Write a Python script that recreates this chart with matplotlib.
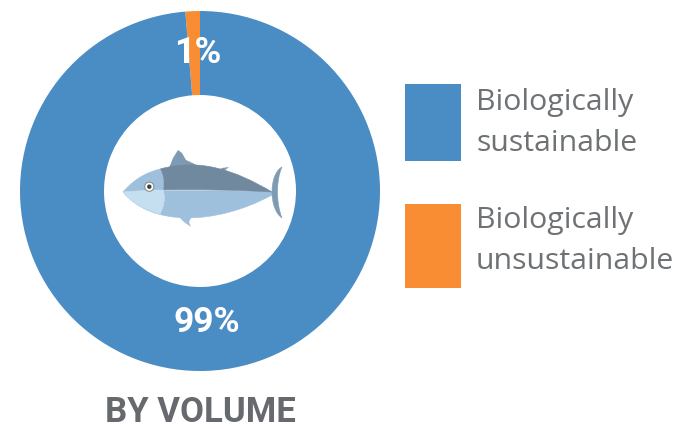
import matplotlib
matplotlib.use("Agg")
import matplotlib.pyplot as plt
from matplotlib.patches import Polygon, Rectangle, PathPatch, Circle
from matplotlib.path import Path

# values (the orange wedge is drawn a bit wider than its 1% label)
shares = [98.7, 1.3]
share_labels = ["99%", "1%"]
legend_labels = ["Biologically\nsustainable", "Biologically\nunsustainable"]
colors = ["#4a8cc4", "#f98d33"]
chart_title = "BY VOLUME"

W, H = 692, 429
fig = plt.figure(figsize=(W / 100, H / 100), dpi=100)

# donut
pie_ax = fig.add_axes([20 / W, 1 - 371 / H, 360 / W, 360 / H])
pie_ax.pie(shares[::-1], colors=colors[::-1], startangle=90, counterclock=True,
           radius=1.0, wedgeprops=dict(width=1 - 96 / 180, linewidth=0))
pie_ax.set_xlim(-1, 1)
pie_ax.set_ylim(-1, 1)

# everything else goes on a pixel axes on top
ax = fig.add_axes([0, 0, 1, 1], facecolor="none")
ax.set_xlim(0, W)
ax.set_ylim(H, 0)
ax.axis("off")


def curve(pts, fc):
    # first point then groups of 3 bezier points
    codes = [Path.MOVETO] + [Path.CURVE4] * (len(pts) - 1)
    ax.add_patch(PathPatch(Path(pts, codes), fc=fc, ec=fc, lw=0.4))


dark = "#71899f"
mid = "#9fc0dc"
pale = "#c5dff0"

# fins first, body over them
ax.add_patch(Polygon([(169, 168), (173, 158), (178, 150), (182, 153), (186, 160), (201, 167)], fc="#7f9ab3", lw=0))
ax.add_patch(Polygon([(216, 172), (222, 168), (229, 167), (224, 171), (222, 176)], fc="#7f9ab3", lw=0))
ax.add_patch(Polygon([(178, 216), (184, 222), (191, 227), (189, 222), (192, 216)], fc=mid, lw=0))
ax.add_patch(Polygon([(231, 204), (236, 207), (242, 208), (238, 206), (237, 202)], fc=mid, lw=0))

# lower body, upper body, head
curve([(123, 192), (150, 226), (215, 226), (272, 195), (272, 193), (272, 192), (272, 192),
       (220, 190), (170, 190), (123, 192)], mid)
curve([(160, 169), (200, 158), (235, 170), (272, 192), (235, 190), (195, 189), (160, 190), (160, 183), (160, 177), (160, 169)], dark)
curve([(123, 192), (135, 178), (148, 172), (160, 169), (164, 176), (164, 184), (163, 190),
       (150, 190), (135, 191), (123, 192)], mid)
curve([(123, 192), (135, 191), (150, 190), (163, 190), (166, 198), (164, 206), (160, 214),
       (145, 210), (132, 203), (123, 192)], pale)

# tail
curve([(272, 192), (272, 180), (276, 170), (282, 167), (276, 180), (276, 203), (282, 218),
       (276, 214), (272, 204), (272, 192)], "#7f9ab3")

# eye
ax.add_patch(Circle((149.3, 186.7), 4.6, fc="white", ec="#8a8f8f", lw=0.8))
ax.add_patch(Circle((149.3, 186.7), 2.2, fc="#3a4048", lw=0))

# percent labels and title
ax.text(198, 53, share_labels[1], fontsize=26, color="white", ha="center", va="center",
        weight="bold", family="Roboto")
ax.text(207, 323, share_labels[0], fontsize=25.5, color="white", ha="center", va="center",
        weight="bold", family="Roboto")
ax.text(200, 413, chart_title, fontsize=25, color="#666a6e", ha="center", va="center",
        weight="bold", family="Roboto")

# legend
ax.add_patch(Rectangle((405, 84), 56, 77, fc=colors[0], lw=0))
ax.add_patch(Rectangle((405, 204), 56, 84, fc=colors[1], lw=0))
ax.text(476, 123, legend_labels[0], fontsize=21.8, color="#6f7275", ha="left", va="center",
        family="Open Sans", linespacing=1.55)
ax.text(476, 241, legend_labels[1], fontsize=21.8, color="#6f7275", ha="left", va="center",
        family="Open Sans", linespacing=1.55)

fig.savefig("out.png", dpi=100)
